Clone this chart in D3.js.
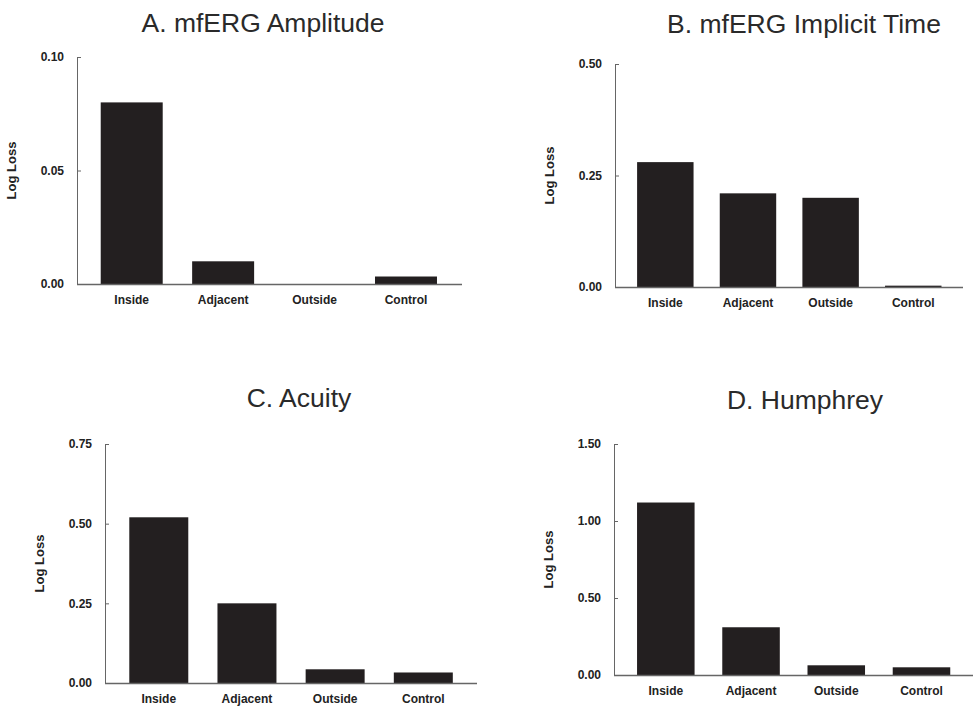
<!DOCTYPE html>
<html><head><meta charset="utf-8">
<script src="https://cdn.jsdelivr.net/npm/d3@7"></script>
<style>
body{margin:0;background:#fff;}
svg{display:block;font-family:"Liberation Sans",Arial,sans-serif;}
</style></head>
<body><svg id="c" width="979" height="707"></svg>
<script>
const categories = ["Inside","Adjacent","Outside","Control"];
const titles = ["A. mfERG Amplitude","B. mfERG Implicit Time","C. Acuity","D. Humphrey"];
const yLabel = "Log Loss";
const valuesA = [0.080, 0.010, 0.000, 0.0033];
const valuesB = [0.28, 0.21, 0.20, 0.003];
const valuesC = [0.52, 0.25, 0.043, 0.033];
const valuesD = [1.12, 0.31, 0.063, 0.05];
const ticksA = [0, 0.05, 0.10];
const ticksB = [0, 0.25, 0.50];
const ticksC = [0, 0.25, 0.50, 0.75];
const ticksD = [0, 0.50, 1.00, 1.50];

// layout (positions only)
const layout = [
  {axisX:77,  yTop:57,  y0:284, xEnd:462, r:[86,451.7],   pi:0.322, tx:263, ty:32},
  {axisX:615, yTop:64,  y0:287, xEnd:963, r:[624,954.6],  pi:0.317, tx:804, ty:33},
  {axisX:105, yTop:444, y0:683, xEnd:477, r:[114.7,467.4],pi:0.331, tx:299, ty:407},
  {axisX:614, yTop:444, y0:675, xEnd:973, r:[623.2,964.1],pi:0.325, tx:805, ty:409}
];
const values = [valuesA, valuesB, valuesC, valuesD];
const ticks = [ticksA, ticksB, ticksC, ticksD];

const svg = d3.select("#c");
const barColor = "#231f20", axisColor = "#666", textColor = "#222";

layout.forEach((L, i) => {
  const g = svg.append("g");
  const tv = ticks[i];
  const y = d3.scaleLinear().domain([0, tv[tv.length-1]]).range([L.y0, L.yTop]);
  const x = d3.scaleBand().domain(categories).range(L.r)
      .paddingInner(L.pi).paddingOuter(L.pi/2);

  // title
  g.append("text").attr("x", L.tx).attr("y", L.ty).attr("text-anchor","middle")
    .attr("font-size", 26.5).attr("fill", "#2a2a2a").text(titles[i]);

  // bars
  g.selectAll("rect.bar").data(values[i]).join("rect").attr("class","bar")
    .attr("x", (d,j) => x(categories[j]))
    .attr("width", x.bandwidth())
    .attr("y", d => y(d))
    .attr("height", d => y(0) - y(d))
    .attr("fill", barColor);

  // y axis
  const ya = g.append("g").attr("transform", `translate(${L.axisX},0)`)
    .call(d3.axisLeft(y).tickValues(tv).tickFormat(d3.format(".2f"))
      .tickSizeInner(-4).tickSizeOuter(0).tickPadding(13));
  ya.select(".domain").attr("stroke", axisColor);
  ya.selectAll(".tick line").attr("stroke", axisColor);
  ya.selectAll("text").attr("font-size", 12).attr("font-weight","bold")
    .attr("fill", textColor).attr("font-family","Liberation Sans, Arial, sans-serif");

  // x axis
  const xa = g.append("g").attr("transform", `translate(0,${L.y0})`)
    .call(d3.axisBottom(x).tickSize(0).tickPadding(11));
  xa.select(".domain").remove();
  xa.selectAll("text").attr("font-size", 12).attr("font-weight","bold")
    .attr("fill", textColor).attr("font-family","Liberation Sans, Arial, sans-serif");
  g.append("line").attr("x1", L.axisX).attr("x2", L.xEnd)
    .attr("y1", y(0)+0.5).attr("y2", y(0)+0.5)
    .attr("stroke", axisColor).attr("stroke-width", 1.3);

  // y label
  const cy = (L.yTop + L.y0)/2, lx = L.axisX - 61;
  g.append("text").attr("transform", `translate(${lx},${cy}) rotate(-90)`)
    .attr("text-anchor","middle").attr("font-size", 13).attr("font-weight","bold")
    .attr("fill", textColor).text(yLabel);
});
</script></body></html>
